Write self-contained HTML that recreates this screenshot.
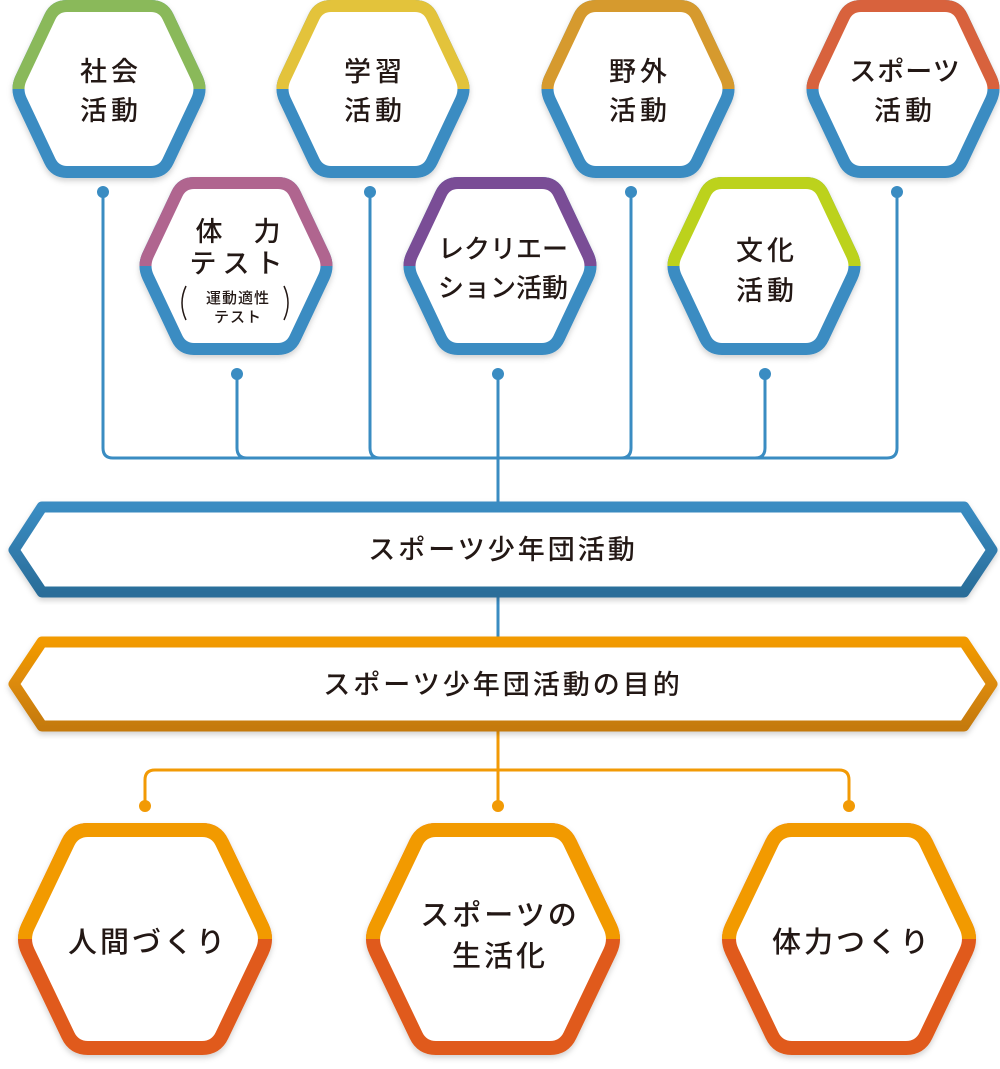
<!DOCTYPE html>
<html><head><meta charset="utf-8"><style>
html,body{margin:0;padding:0;background:#fff;}
svg{display:block;}
text{font-family:"Liberation Sans","Noto Sans CJK JP",sans-serif;fill:#231815;font-weight:500;text-anchor:middle;}
</style></head><body>
<svg width="1000" height="1069" viewBox="0 0 1000 1069" xmlns="http://www.w3.org/2000/svg">
<defs>
<clipPath id="ta" clipPathUnits="userSpaceOnUse"><rect x="-20" y="-20" width="230" height="103"/></clipPath>
<clipPath id="tb" clipPathUnits="userSpaceOnUse"><rect x="-20" y="-20" width="290" height="129"/></clipPath>
<path id="ha" d="M5,72.2 L33.9,10.9 Q39,0 51,0 L135,0 Q147,0 152.1,10.9 L181,72.2 Q186,83 181,93.8 L152.1,155.1 Q147,166 135,166 L51,166 Q39,166 33.9,155.1 L5,93.8 Q0,83 5,72.2 Z" fill="#fff" stroke-linejoin="round"/>
<path id="hb" d="M6,96.4 L46,12.6 Q52,0 66,0 L180,0 Q194,0 200,12.6 L240,96.4 Q246,109 240,121.6 L200,205.4 Q194,218 180,218 L66,218 Q52,218 46,205.4 L6,121.6 Q0,109 6,96.4 Z" fill="#fff" stroke-linejoin="round"/>
<filter id="sh" x="-10%" y="-10%" width="120%" height="125%"><feDropShadow dx="0" dy="3" stdDeviation="3" flood-color="#000" flood-opacity="0.18"/></filter>
<linearGradient id="bb" x1="0" y1="0" x2="0" y2="1"><stop offset="0" stop-color="#3a8cc2"/><stop offset="1" stop-color="#2a6d99"/></linearGradient>
<linearGradient id="ob" x1="0" y1="0" x2="0" y2="1"><stop offset="0" stop-color="#f29a05"/><stop offset="1" stop-color="#c57a0a"/></linearGradient>
</defs>

<g fill="none" stroke="#3a8cc2" stroke-width="3">
<path d="M103,192 V448 Q103,458 113,458 H887 Q897,458 897,448 V192"/>
<path d="M237,374 V448 Q237,458 247,458"/>
<path d="M370,192 V448 Q370,458 380,458"/>
<path d="M631,192 V448 Q631,458 621,458"/>
<path d="M765,374 V448 Q765,458 755,458"/>
<path d="M498,374 V640"/>
</g>
<g fill="#3a8cc2">
<circle cx="103" cy="192" r="6"/><circle cx="370" cy="192" r="6"/><circle cx="631" cy="192" r="6"/><circle cx="897" cy="192" r="6"/>
<circle cx="237" cy="374" r="6"/><circle cx="498" cy="374" r="6"/><circle cx="765" cy="374" r="6"/>
</g>
<g fill="none" stroke="#f29a05" stroke-width="3">
<path d="M498,726 V770"/>
<path d="M145,806 V780 Q145,770 155,770 H839 Q849,770 849,780 V806"/>
<path d="M498,770 V806"/>
</g>
<g fill="#f29a05"><circle cx="145" cy="806" r="6"/><circle cx="498" cy="806" r="6"/><circle cx="849" cy="806" r="6"/></g>

<g filter="url(#sh)">
<g transform="translate(16,6)"><use href="#ha" stroke="#3a8cc2" stroke-width="12"/><use href="#ha" stroke="#8ab95a" stroke-width="12" clip-path="url(#ta)"/></g>
<g transform="translate(280,6)"><use href="#ha" stroke="#3a8cc2" stroke-width="12"/><use href="#ha" stroke="#e3c33a" stroke-width="12" clip-path="url(#ta)"/></g>
<g transform="translate(545,6)"><use href="#ha" stroke="#3a8cc2" stroke-width="12"/><use href="#ha" stroke="#d69a2e" stroke-width="12" clip-path="url(#ta)"/></g>
<g transform="translate(810,6)"><use href="#ha" stroke="#3a8cc2" stroke-width="12"/><use href="#ha" stroke="#d8623c" stroke-width="12" clip-path="url(#ta)"/></g>
<g transform="translate(143,183)"><use href="#ha" stroke="#3a8cc2" stroke-width="12"/><use href="#ha" stroke="#b0658f" stroke-width="12" clip-path="url(#ta)"/></g>
<g transform="translate(407,183)"><use href="#ha" stroke="#3a8cc2" stroke-width="12"/><use href="#ha" stroke="#7a4e96" stroke-width="12" clip-path="url(#ta)"/></g>
<g transform="translate(671,183)"><use href="#ha" stroke="#3a8cc2" stroke-width="12"/><use href="#ha" stroke="#bcd21a" stroke-width="12" clip-path="url(#ta)"/></g>
</g>

<path d="M14,550 L42,507 H964 L992,550 L964,592 H42 Z" fill="#fff" stroke="url(#bb)" stroke-width="11" stroke-linejoin="round" filter="url(#sh)"/>
<path d="M14,684 L42,642 H964 L992,684 L964,726 H42 Z" fill="#fff" stroke="url(#ob)" stroke-width="11" stroke-linejoin="round" filter="url(#sh)"/>

<g filter="url(#sh)">
<g transform="translate(22,830)"><use href="#hb" stroke="#e05a1a" stroke-width="14"/><use href="#hb" stroke="#f29a05" stroke-width="14" clip-path="url(#tb)"/></g>
<g transform="translate(370,830)"><use href="#hb" stroke="#e05a1a" stroke-width="14"/><use href="#hb" stroke="#f29a05" stroke-width="14" clip-path="url(#tb)"/></g>
<g transform="translate(726,830)"><use href="#hb" stroke="#e05a1a" stroke-width="14"/><use href="#hb" stroke="#f29a05" stroke-width="14" clip-path="url(#tb)"/></g>
</g>

<g font-size="27" letter-spacing="4">
<text x="111" y="81">社会</text><text x="111" y="120">活動</text>
<text x="375" y="81">学習</text><text x="375" y="120">活動</text>
<text x="640" y="81">野外</text><text x="640" y="120">活動</text>
<text x="905" y="81" letter-spacing="1">スポーツ</text><text x="905" y="120">活動</text>
<text x="239" y="241" letter-spacing="2">体　力</text><text x="239" y="273" letter-spacing="6">テスト</text>
<text x="503" y="258" letter-spacing="0" font-size="26">レクリエー</text><text x="503" y="297" letter-spacing="0" font-size="26">ション活動</text>
<text x="767" y="260">文化</text><text x="767" y="300">活動</text>
</g>
<g font-size="15" letter-spacing="1">
<text x="238" y="303">運動適性</text><text x="238" y="322">テスト</text>
</g>
<path d="M186,286 Q178,303 186,320" fill="none" stroke="#231815" stroke-width="1.5"/>
<path d="M284,286 Q292,303 284,320" fill="none" stroke="#231815" stroke-width="1.5"/>
<g font-size="27" letter-spacing="3">
<text x="503" y="559">スポーツ少年団活動</text>
<text x="503" y="694">スポーツ少年団活動の目的</text>
</g>
<g font-size="29" letter-spacing="3">
<text x="148" y="952">人間づくり</text>
<text x="500" y="925">スポーツの</text><text x="500" y="966">生活化</text>
<text x="852" y="952">体力つくり</text>
</g>
</svg>
</body></html>
